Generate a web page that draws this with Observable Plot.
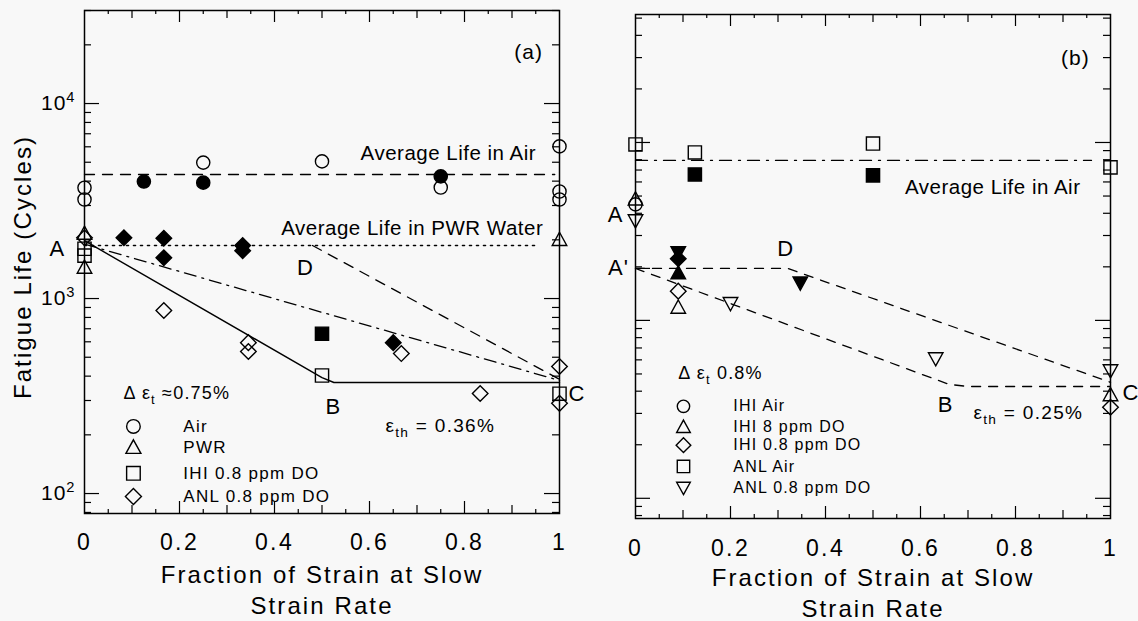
<!DOCTYPE html>
<html><head><meta charset="utf-8">
<script src="https://cdn.jsdelivr.net/npm/d3@7"></script>
<script src="https://cdn.jsdelivr.net/npm/@observablehq/plot@0.6"></script>
<style>
html,body{margin:0;padding:0;background:#f8f8f8;}
#wrap{position:relative;width:1138px;height:621px;overflow:hidden;}
#wrap svg{position:absolute;top:0;overflow:visible;}
</style></head><body><div id="wrap"></div>
<script>
// ---------- axis ticks ----------
const xTickLabels = [0, 0.2, 0.4, 0.6, 0.8, 1];
const xTicksMajor = [0.2, 0.4, 0.6, 0.8];
const xTicksMedium = [0.1, 0.3, 0.5, 0.7, 0.9];
const xTicksMinor = [0.05, 0.15, 0.25, 0.35, 0.45, 0.55, 0.65, 0.75, 0.85, 0.95];
const yDecades = [100, 1000, 10000];

// ---------- panel (a) data ----------
const aAirX = [0, 0, 0.25, 0.5, 0.75, 1, 1, 1];
const aAirY = [3700, 3220, 4980, 5050, 3710, 6030, 3540, 3220];
const aAirFillX = [0.125, 0.25, 0.75];
const aAirFillY = [3980, 3930, 4230];
const aPwrX = [0, 0, 1];
const aPwrY = [2150, 1440, 2000];
const aIhiX = [0, 0, 0.5, 1];
const aIhiY = [1800, 1660, 403, 325];
const aIhiFillX = [0.5];
const aIhiFillY = [660];
const aAnlX = [0, 0.167, 0.345, 0.345, 0.667, 0.833, 1, 1];
const aAnlY = [2050, 868, 594, 535, 522, 326, 448, 290];
const aAnlFillX = [0.083, 0.167, 0.167, 0.333, 0.333, 0.65];
const aAnlFillY = [2050, 2040, 1620, 1870, 1760, 594];
// lines
const aAirAvgX = [0, 0.99], aAirAvgY = [4325, 4325];
const aPwrAvgX = [0, 0.956], aPwrAvgY = [1870, 1870];
const aSolidX = [0, 0.5, 0.525, 1], aSolidY = [1980, 393, 371, 371];
const aDashDotX = [0, 1], aDashDotY = [1900, 380];
const aDashX = [0.48, 1], aDashY = [1870, 385];
// legend
const aLegendLabels = ["Air", "PWR", "IHI 0.8 ppm DO", "ANL 0.8 ppm DO"];
const aLegendY = [221, 172, 127, 96.6];

// ---------- panel (b) data ----------
const bIhiAirX = [0], bIhiAirY = [4490];
const bIhi8X = [0, 0.09, 1], bIhi8Y = [4790, 1180, 380];
const bIhi08X = [0.09, 1], bIhi08Y = [1460, 325];
const bAnlAirX = [0, 0.125, 0.5, 1], bAnlAirY = [9750, 8790, 9860, 7250];
const bAnl08X = [0, 0.2, 0.632, 1], bAnl08Y = [3650, 1250, 612, 524];
const bSqFillX = [0.125, 0.5], bSqFillY = [6610, 6530];
const bDownFillX = [0.09, 0.347], bDownFillY = [2410, 1630];
const bDiaFillX = [0.09], bDiaFillY = [2220];
const bUpFillX = [0.09], bUpFillY = [1840];
// lines
const bAirAvgX = [0, 0.96], bAirAvgY = [7930, 7930];
const bUpperX = [0, 0.32, 1], bUpperY = [1960, 1960, 449];
const bLowerX = [0, 0.66, 0.7, 1], bLowerY = [1960, 437, 425, 425];
// legend
const bLegendLabels = ["IHI Air", "IHI 8 ppm DO", "IHI 0.8 ppm DO", "ANL Air", "ANL 0.8 ppm DO"];
const bLegendY = [329, 251, 199, 151, 115];
// extra long tick on panel (b) left axis at A'
const bMarkTick = [1960];

// ---------- annotations (text, anchor in data units) ----------
const aNotes = [
  {t: "(a)", x: 0.935, y: 18270, s: 21, a: "middle"},
  {t: "Average Life in Air", x: 0.766, y: 5540, s: 20.5, a: "middle"},
  {t: "Average Life in PWR Water", x: 0.69, y: 2285, s: 20.5, a: "middle"},
  {t: "D", x: 0.465, y: 1443, s: 22, a: "middle"},
  {t: "A", x: -0.057, y: 1803, s: 22, a: "middle"},
  {t: "B", x: 0.524, y: 279, s: 22, a: "middle"},
  {t: "C", x: 1.019, y: 326, s: 22, a: "start"},
  {t: "ε_{th} = 0.36%", x: 0.749, y: 223, s: 19, a: "middle"},
  {t: "Δ ε_{t} ≈0.75%", x: 0.082, y: 326, s: 18, a: "start"}
];
const bNotes = [
  {t: "(b)", x: 0.926, y: 29650, s: 21, a: "middle"},
  {t: "Average Life in Air", x: 0.752, y: 5580, s: 20.5, a: "middle"},
  {t: "A", x: -0.042, y: 3890, s: 22, a: "middle"},
  {t: "A'", x: -0.036, y: 1960, s: 22, a: "middle"},
  {t: "D", x: 0.316, y: 2535, s: 22, a: "middle"},
  {t: "B", x: 0.653, y: 333, s: 22, a: "middle"},
  {t: "C", x: 1.025, y: 389, s: 22, a: "start"},
  {t: "ε_{th} = 0.25%", x: 0.827, y: 301, s: 19, a: "middle"},
  {t: "Δ ε_{t} 0.8%", x: 0.09, y: 504, s: 18, a: "start"}
];

// letter spacing by font size (px)
const SPACING = {"24": "2.1px", "23": "2.4px", "21": "1px", "20.5": "0.5px", "22": "1px", "19": "1.3px", "18": "1.2px", "17": "1.3px", "16": "1.2px"};

// ---------- symbols ----------
const SQ = {draw(c, size){ const r = Math.sqrt(size/Math.PI); c.moveTo(-r,-r); c.lineTo(r,-r); c.lineTo(r,r); c.lineTo(-r,r); c.closePath(); }};
const DIA = {draw(c, size){ const r = Math.sqrt(size/Math.PI)*1.18; c.moveTo(0,-r); c.lineTo(r,0); c.lineTo(0,r); c.lineTo(-r,0); c.closePath(); }};
const UP = {draw(c, size){ const r = Math.sqrt(size/Math.PI); c.moveTo(0,-1.15*r); c.lineTo(1.1*r,0.85*r); c.lineTo(-1.1*r,0.85*r); c.closePath(); }};
const DOWN = {draw(c, size){ const r = Math.sqrt(size/Math.PI); c.moveTo(0,1.15*r); c.lineTo(1.1*r,-0.85*r); c.lineTo(-1.1*r,-0.85*r); c.closePath(); }};
const CIRC = "circle";

const FONT = "'Liberation Sans', Arial, Helvetica, sans-serif";

function dots(xs, ys, symbol, filled, r = 6.6) {
  return Plot.dot(xs, {x: xs, y: ys, symbol, r, stroke: "black", strokeWidth: 1.4, fill: filled ? "black" : "none"});
}
function line(xs, ys, dash, w = 1.3) {
  return Plot.line(xs, {x: xs, y: ys, stroke: "black", strokeWidth: w, strokeDasharray: dash, curve: "linear"});
}
function notes(list) {
  return list.map(n => Plot.text([n], {x: "x", y: "y", text: "t", fontSize: n.s, textAnchor: n.a}));
}
function frameTicks(fw, fh, yDomain) {
  const yAll = d3.scaleLog().domain(yDomain).ticks();
  const yMinor = yAll.filter(v => !yDecades.includes(v));
  const m = [];
  m.push(Plot.tickY(yDecades, {y: d => d, insetRight: fw - 15, strokeWidth: 1.2}));
  m.push(Plot.tickY(yMinor, {y: d => d, insetRight: fw - 7, strokeWidth: 1.2}));
  m.push(Plot.tickY(yDecades, {y: d => d, insetLeft: fw - 15, strokeWidth: 1.2}));
  m.push(Plot.tickY(yMinor, {y: d => d, insetLeft: fw - 7, strokeWidth: 1.2}));
  for (const [vals, len] of [[xTicksMajor, 12], [xTicksMedium, 8], [xTicksMinor, 4]]) {
    m.push(Plot.tickX(vals, {x: d => d, insetTop: fh - len, strokeWidth: 1.2}));
    m.push(Plot.tickX(vals, {x: d => d, insetBottom: fh - len, strokeWidth: 1.2}));
  }
  return m;
}
const xTitle = (dy) => Plot.text(["Fraction of Strain at Slow\nStrain Rate"], {text: d => d, frameAnchor: "bottom", dy, lineAnchor: "middle", lineHeight: 1.28, fontSize: 24});

// ---------- panel (a) ----------
const aDomain = [79, 30000];
const plotA = Plot.plot({
  width: 600, height: 621,
  marginLeft: 84, marginRight: 41, marginTop: 10, marginBottom: 108,
  style: {fontFamily: FONT, background: "#f8f8f8", letterSpacing: "1px", overflow: "visible"},
  x: {domain: [0, 1]},
  y: {type: "log", domain: aDomain},
  marks: [
    ...frameTicks(475, 503, aDomain),
    Plot.frame({stroke: "black", strokeWidth: 1.5}),
    Plot.axisX(xTickLabels, {anchor: "bottom", tickSize: 0, tickPadding: 20, fontSize: 23, tickFormat: d => String(d), label: null}),
    Plot.axisY(yDecades, {anchor: "left", tickSize: 0, tickPadding: 9, fontSize: 21, tickFormat: d => "10^{" + Math.round(Math.log10(d)) + "}", label: null}),
    xTitle(75),
    Plot.text(["Fatigue Life (Cycles)"], {text: d => d, frameAnchor: "left", textAnchor: "middle", rotate: -90, dx: -61, dy: 5, fontSize: 24}),
    line(aAirAvgX, aAirAvgY, "10,8"),
    line(aPwrAvgX, aPwrAvgY, "2,5", 1.6),
    line(aSolidX, aSolidY, null, 1.4),
    line(aDashDotX, aDashDotY, "12,6,2,6"),
    line(aDashX, aDashY, "10,8"),
    dots(aAirX, aAirY, CIRC, false),
    dots(aAirFillX, aAirFillY, CIRC, true),
    dots(aPwrX, aPwrY, UP, false),
    dots(aIhiX, aIhiY, SQ, false),
    dots(aIhiFillX, aIhiFillY, SQ, true),
    dots(aAnlX, aAnlY, DIA, false),
    dots(aAnlFillX, aAnlFillY, DIA, true),
    ...notes(aNotes),
    Plot.dot(aLegendLabels, {x: () => 0.103, y: (d, i) => aLegendY[i], symbol: (d, i) => [CIRC, UP, SQ, DIA][i], r: 6.8, stroke: "black", strokeWidth: 1.4, fill: "none"}),
    Plot.text(aLegendLabels, {x: () => 0.208, y: (d, i) => aLegendY[i], text: d => d, textAnchor: "start", fontSize: 17})
  ]
});

// ---------- panel (b) ----------
const bDomain = [77, 52400];
const plotB = Plot.plot({
  width: 538, height: 621,
  marginLeft: 35, marginRight: 28, marginTop: 14, marginBottom: 103,
  style: {fontFamily: FONT, background: "#f8f8f8", letterSpacing: "1px", overflow: "visible"},
  x: {domain: [0, 1]},
  y: {type: "log", domain: bDomain, axis: null},
  marks: [
    ...frameTicks(475, 504, bDomain),
    Plot.tickY(bMarkTick, {y: d => d, insetRight: 475 - 15, strokeWidth: 1.2}),
    Plot.frame({stroke: "black", strokeWidth: 1.5}),
    Plot.axisX(xTickLabels, {anchor: "bottom", tickSize: 0, tickPadding: 21, fontSize: 23, tickFormat: d => String(d), label: null}),
    xTitle(73),
    line(bAirAvgX, bAirAvgY, "12,7,2,7"),
    line(bUpperX, bUpperY, "9,8"),
    line(bLowerX, bLowerY, "9,8"),
    dots(bIhiAirX, bIhiAirY, CIRC, false),
    dots(bIhi8X, bIhi8Y, UP, false),
    dots(bIhi08X, bIhi08Y, DIA, false),
    dots(bAnlAirX, bAnlAirY, SQ, false),
    dots(bAnl08X, bAnl08Y, DOWN, false),
    dots(bSqFillX, bSqFillY, SQ, true),
    dots(bDownFillX, bDownFillY, DOWN, true),
    dots(bDiaFillX, bDiaFillY, DIA, true),
    dots(bUpFillX, bUpFillY, UP, true),
    ...notes(bNotes),
    Plot.dot(bLegendLabels, {x: () => 0.101, y: (d, i) => bLegendY[i], symbol: (d, i) => [CIRC, UP, DIA, SQ, DOWN][i], r: 6.2, stroke: "black", strokeWidth: 1.4, fill: "none"}),
    Plot.text(bLegendLabels, {x: () => 0.206, y: (d, i) => bLegendY[i], text: d => d, textAnchor: "start", fontSize: 16})
  ]
});

plotA.style.left = "0px";
plotB.style.left = "600px";
const wrap = document.getElementById("wrap");
wrap.appendChild(plotA);
wrap.appendChild(plotB);

// ---------- letter spacing + sub/superscripts ----------
function spacing(svg) {
  svg.querySelectorAll("g[font-size]").forEach(g => {
    const k = g.getAttribute("font-size");
    if (SPACING[k]) g.style.letterSpacing = SPACING[k];
  });
}
function richText(svg) {
  svg.querySelectorAll("text").forEach(t => {
    const spans = t.querySelectorAll("tspan");
    const nodes = spans.length ? [...spans] : [t];
    nodes.forEach(n => {
      const s = n.textContent;
      if (!/[_^]\{/.test(s)) return;
      n.textContent = "";
      let shift = 0;
      for (const p of s.split(/([_^]\{[^}]*\})/)) {
        if (!p) continue;
        const ts = document.createElementNS("http://www.w3.org/2000/svg", "tspan");
        let target = 0, txt = p, size = null;
        if (p.startsWith("_{")) { target = 5; txt = p.slice(2, -1); size = "72%"; }
        else if (p.startsWith("^{")) { target = -8; txt = p.slice(2, -1); size = "70%"; }
        const dy = target - shift; shift = target;
        if (dy) ts.setAttribute("dy", dy);
        if (size) ts.style.fontSize = size;
        ts.textContent = txt;
        n.appendChild(ts);
      }
    });
  });
}
for (const p of [plotA, plotB]) { spacing(p); richText(p); }
</script></body></html>
